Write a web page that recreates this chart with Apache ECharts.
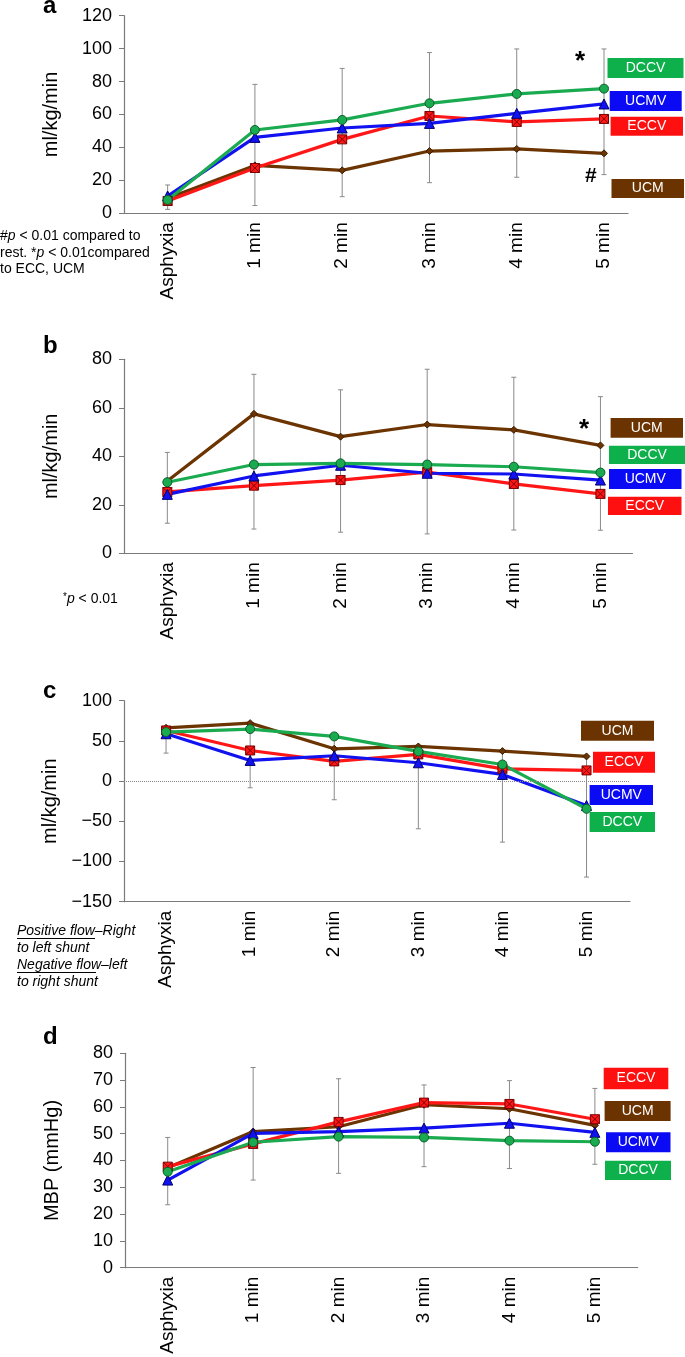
<!DOCTYPE html>
<html><head><meta charset="utf-8">
<script src="https://cdn.jsdelivr.net/npm/echarts@6/dist/echarts.min.js"></script>
<style>html,body{margin:0;padding:0;background:#fff}#c{width:685px;height:1357px}</style>
</head><body><div id="c"></div>
<script>
const categories = ['Asphyxia','1 min','2 min','3 min','4 min','5 min'];

// Panel a – ml/kg/min
const a_DCCV = [8.1, 50.6, 56.7, 66.8, 72.5, 75.7];
const a_UCMV = [10.5, 46.1, 51.8, 54.6, 60.7, 66.4];
const a_ECCV = [7.5, 27.5, 44.9, 59.1, 55.5, 57.3];
const a_UCM  = [9.1, 29.1, 26.1, 37.8, 39.1, 36.4];
const a_errLow  = [2.4, 4.7, 10.1, 18.6, 21.9, 23.5];
const a_errHigh = [17.2, 78.3, 88.0, 97.6, 99.8, 99.8];

// Panel b – ml/kg/min
const b_DCCV = [29.3, 36.6, 37.1, 36.6, 35.7, 33.3];
const b_UCMV = [24.3, 31.9, 36.3, 33.0, 32.7, 30.2];
const b_ECCV = [25.3, 27.9, 30.2, 33.5, 28.6, 24.5];
const b_UCM  = [29.8, 57.5, 48.1, 53.1, 50.9, 44.5];
const b_errLow  = [12.4, 10.0, 8.7, 8.0, 9.6, 9.5];
const b_errHigh = [41.6, 73.8, 67.4, 75.9, 72.6, 64.6];

// Panel c – ml/kg/min (shunt flow)
const c_DCCV = [61.0, 64.7, 55.6, 36.9, 20.7, -34.4];
const c_UCMV = [58.9, 25.7, 31.5, 22.8, 8.3, -30.3];
const c_ECCV = [63.0, 38.1, 24.5, 33.2, 15.3, 13.3];
const c_UCM  = [66.3, 72.1, 40.2, 43.1, 37.3, 30.7];
const c_errLow  = [34.8, -8.3, -23.2, -59.3, -75.9, -119.4];
const c_errHigh = [67.0, 72.0, 56.0, 43.0, 37.0, 31.0];

// Panel d – MBP (mmHg)
const d_DCCV = [35.8, 46.8, 48.9, 48.6, 47.4, 47.0];
const d_UCMV = [32.7, 50.1, 50.8, 52.1, 53.9, 50.5];
const d_ECCV = [37.7, 46.2, 54.4, 61.6, 61.1, 55.4];
const d_UCM  = [37.3, 50.8, 52.6, 60.8, 59.3, 53.1];
const d_errLow  = [23.5, 32.7, 35.2, 37.7, 37.0, 38.6];
const d_errHigh = [48.6, 74.7, 70.5, 68.2, 69.8, 66.9];

const COLORS = {DCCV:'#1aaa50', UCMV:'#1212f0', ECCV:'#ff1717', UCM:'#6b3400'};
const BOX = {DCCV:'#0db04b', UCMV:'#0a0af5', ECCV:'#ff1010', UCM:'#6b3300'};
const FONT = "'Liberation Sans', Arial, Helvetica, sans-serif";

const chart = echarts.init(document.getElementById('c'), null, {renderer:'canvas'});

const panels = [
  {key:'a', grid:{left:124, top:15.7, width:504, height:197.6}, xmax:5.275, y:{min:0,max:120,interval:20}, name:'ml/kg/min',
   s:{DCCV:a_DCCV,UCMV:a_UCMV,ECCV:a_ECCV,UCM:a_UCM}, lo:a_errLow, hi:a_errHigh},
  {key:'b', grid:{left:124, top:359.3, width:508.5, height:194}, xmax:5.37, y:{min:0,max:80,interval:20}, name:'ml/kg/min',
   s:{DCCV:b_DCCV,UCMV:b_UCMV,ECCV:b_ECCV,UCM:b_UCM}, lo:b_errLow, hi:b_errHigh},
  {key:'c', grid:{left:124, top:700.7, width:506, height:201}, xmax:5.517, y:{min:-150,max:100,interval:50}, name:'ml/kg/min',
   s:{DCCV:c_DCCV,UCMV:c_UCMV,ECCV:c_ECCV,UCM:c_UCM}, lo:c_errLow, hi:c_errHigh, zero:true},
  {key:'d', grid:{left:125, top:1053.3, width:512.6, height:214.4}, xmax:5.5, y:{min:0,max:80,interval:10}, name:'MBP (mmHg)',
   s:{DCCV:d_DCCV,UCMV:d_UCMV,ECCV:d_ECCV,UCM:d_UCM}, lo:d_errLow, hi:d_errHigh}
];

const SYMBOLS = {
  DCCV:{symbol:'circle', size:9, border:'#0b5e28'},
  UCMV:{symbol:'triangle', size:10, border:'#00006e'},
  ECCV:{symbol:'path://M0,0L10,0L10,10L0,10Z M0,0L10,10 M10,0L0,10', size:9, border:'#7a0000'},
  UCM:{symbol:'diamond', size:7, border:'#3d1d00'}
};

function errRender(params, api){
  const x = api.value(0), lo = api.value(1), hi = api.value(2);
  const p1 = api.coord([x, lo]), p2 = api.coord([x, hi]);
  const w = 2.5, st = {stroke:'#8a8a8a', lineWidth:1};
  return {type:'group', children:[
    {type:'line', shape:{x1:p1[0],y1:p1[1],x2:p2[0],y2:p2[1]}, style:st},
    {type:'line', shape:{x1:p1[0]-w,y1:p1[1],x2:p1[0]+w,y2:p1[1]}, style:st},
    {type:'line', shape:{x1:p2[0]-w,y1:p2[1],x2:p2[0]+w,y2:p2[1]}, style:st}
  ]};
}

const grid = [], xAxis = [], yAxis = [], series = [];
panels.forEach((p, i) => {
  grid.push(p.grid);
  xAxis.push({type:'value', gridIndex:i, min:-0.5, max:p.xmax, interval:0.5,
    splitLine:{show:false}, axisTick:{show:false},
    axisLine:{onZero:false, lineStyle:{color:'#7a7a7a', width:1.2}},
    axisLabel:{rotate:90, margin:9, fontSize:19, color:'#000', fontFamily:FONT,
      formatter: v => (Number.isInteger(v) && v >= 0 && v < categories.length) ? categories[v] : ''}
  });
  yAxis.push({type:'value', gridIndex:i, min:p.y.min, max:p.y.max, interval:p.y.interval,
    splitLine:{show:false},
    axisLine:{show:true, onZero:false, lineStyle:{color:'#7a7a7a', width:1.2}},
    axisTick:{show:true, length:5, lineStyle:{color:'#7a7a7a'}},
    axisLabel:{fontSize:18, color:'#000', margin:12, fontFamily:FONT,
      formatter: v => String(v).replace('-', '\u2212')},
    name:p.name, nameLocation:'middle', nameGap:63, nameRotate:90,
    nameTextStyle:{fontSize:20, color:'#000', fontFamily:FONT}
  });
  series.push({type:'custom', xAxisIndex:i, yAxisIndex:i, z:1, silent:true,
    renderItem:errRender,
    data: categories.map((c, k) => [k, p.lo[k], p.hi[k]])
  });
  ['UCM','ECCV','UCMV','DCCV'].forEach(n => {
    const sy = SYMBOLS[n];
    series.push({type:'line', name:n, xAxisIndex:i, yAxisIndex:i, z:3,
      data: p.s[n].map((v, k) => [k, v]),
      symbol:sy.symbol, symbolSize:sy.size, showAllSymbol:true,
      lineStyle:{color:COLORS[n], width:3.2},
      itemStyle:{color:COLORS[n], borderColor:sy.border, borderWidth:1},
      emphasis:{disabled:true}, animation:false});
  });
  if (p.zero) {
    series.push({type:'line', xAxisIndex:i, yAxisIndex:i, data:[], z:1,
      markLine:{silent:true, symbol:'none', label:{show:false},
        lineStyle:{color:'#888', type:'dotted', width:1},
        data:[{yAxis:0}]}});
  }
});

function box(x, y, w, h, key){
  return {type:'group', children:[
    {type:'rect', shape:{x:x, y:y, width:w, height:h}, style:{fill:BOX[key]}},
    {type:'text', x:x + w/2, y:y + h/2, style:{text:key, fill:'#fff', font:'14px ' + FONT, align:'center', verticalAlign:'middle'}}
  ]};
}
function txt(x, y, text, font){
  return {type:'text', x:x, y:y, style:{text:text, fill:'#000', font:font, verticalAlign:'middle'}};
}

const graphic = [
  txt(43, 6.7, 'a', 'bold 24px ' + FONT),
  txt(43, 346.7, 'b', 'bold 24px ' + FONT),
  txt(43, 691, 'c', 'bold 24px ' + FONT),
  txt(43, 1037.7, 'd', 'bold 24px ' + FONT),
  // panel a
  box(607.5, 58, 76, 20, 'DCCV'), box(609.7, 91, 72, 20, 'UCMV'),
  box(610.6, 116.7, 72.4, 19, 'ECCV'), box(611.5, 179, 72.5, 19, 'UCM'),
  txt(575, 62, '*', 'bold 26px ' + FONT),
  txt(585, 176, '#', 'bold 21px ' + FONT),
  {type:'text', x:0, y:228, style:{
    text:'{n|#}{i|p}{n| < 0.01 compared to}\n{n|rest. *}{i|p}{n| < 0.01compared}\n{n|to ECC, UCM}',
    rich:{n:{font:'14px ' + FONT, fill:'#000', lineHeight:16.5}, i:{font:'italic 14px ' + FONT, fill:'#000', lineHeight:16.5}},
    verticalAlign:'top'}},
  // panel b
  box(610.6, 418, 72.4, 19.7, 'UCM'), box(609, 445.7, 76, 18.3, 'DCCV'),
  box(609, 469, 72.5, 20, 'UCMV'), box(608, 496.7, 73.5, 18.3, 'ECCV'),
  txt(579, 430, '*', 'bold 26px ' + FONT),
  {type:'text', x:63, y:599, style:{
    text:'{s|*}{i|p}{n| < 0.01}',
    rich:{n:{font:'14px ' + FONT, fill:'#000'}, i:{font:'italic 14px ' + FONT, fill:'#000'}, s:{font:'10px ' + FONT, fill:'#000', verticalAlign:'top'}},
    verticalAlign:'middle'}},
  // panel c
  box(581, 720.7, 73, 20, 'UCM'), box(593, 751.7, 62, 21, 'ECCV'),
  box(589.6, 785, 63.4, 20, 'UCMV'), box(589.6, 812, 65.4, 20, 'DCCV'),
  txt(17, 931, 'Positive flow\u2013Right', 'italic 14px ' + FONT),
  txt(17, 948, 'to left shunt', 'italic 14px ' + FONT),
  txt(17, 965, 'Negative flow\u2013left', 'italic 14px ' + FONT),
  txt(17, 982, 'to right shunt', 'italic 14px ' + FONT),
  {type:'line', shape:{x1:17, y1:938.5, x2:95, y2:938.5}, style:{stroke:'#000', lineWidth:1}},
  {type:'line', shape:{x1:17, y1:972.5, x2:96, y2:972.5}, style:{stroke:'#000', lineWidth:1}},
  // panel d
  box(603.7, 1067.7, 64.6, 21.6, 'ECCV'), box(604.6, 1101, 66, 20, 'UCM'),
  box(606, 1132.3, 64.5, 20, 'UCMV'), box(605, 1160.7, 66, 19.3, 'DCCV')
];

chart.setOption({animation:false, backgroundColor:'#fff', grid, xAxis, yAxis, series, graphic});
</script>
</body></html>
